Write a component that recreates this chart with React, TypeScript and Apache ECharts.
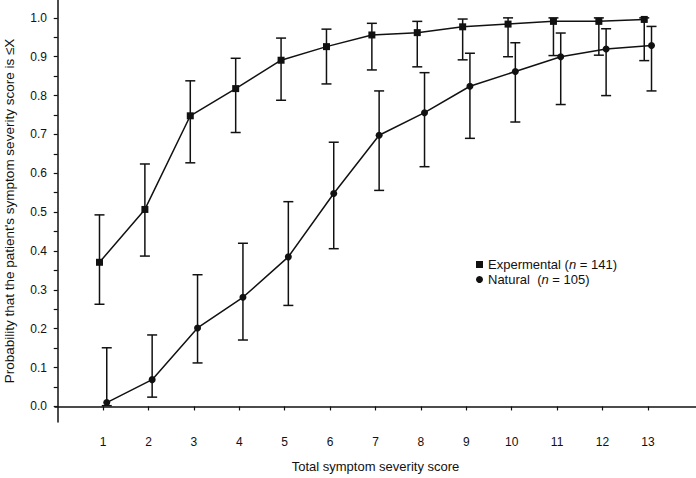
import React, { useEffect, useRef } from "react";
import * as echarts from "echarts";

const categories = [1, 2, 3, 4, 5, 6, 7, 8, 9, 10, 11, 12, 13];
const experimental = [0.371, 0.507, 0.748, 0.818, 0.891, 0.926, 0.956, 0.962, 0.977, 0.984, 0.991, 0.991, 0.996];
const experimentalLow = [0.263, 0.387, 0.627, 0.705, 0.788, 0.83, 0.866, 0.874, 0.892, 0.9, 0.903, 0.904, 0.89];
const experimentalHigh = [0.493, 0.624, 0.838, 0.896, 0.948, 0.971, 0.986, 0.991, 0.997, 1.0, 1.0, 1.0, 1.0];
const natural = [0.01, 0.069, 0.202, 0.281, 0.385, 0.548, 0.698, 0.756, 0.824, 0.862, 0.9, 0.92, 0.929];
const naturalLow = [0.002, 0.024, 0.112, 0.171, 0.26, 0.406, 0.556, 0.617, 0.69, 0.732, 0.777, 0.8, 0.812];
const naturalHigh = [0.151, 0.184, 0.339, 0.42, 0.527, 0.68, 0.812, 0.859, 0.909, 0.936, 0.961, 0.972, 0.978];
const yLabelValues = [0, 0.1, 0.2, 0.3, 0.4, 0.5, 0.6, 0.7, 0.8, 0.9, 1.0];
const yTickValues = [0, 0.05, 0.1, 0.15, 0.2, 0.25, 0.3, 0.35, 0.4, 0.45, 0.5, 0.55, 0.6, 0.65, 0.7, 0.75, 0.8, 0.85, 0.9, 0.95, 1.0];

const FONT = '"Liberation Sans", Arial, Helvetica, sans-serif';
const INK = "#111";
const OFFSET = 0.08;

function errorSeries(name: string, low: number[], high: number[], dx: number) {
  return {
    type: "custom",
    name: name + " CI",
    data: categories.map((c, i) => [c + dx, low[i], high[i]]),
    encode: { x: 0, y: [1, 2] },
    z: 1,
    renderItem: (_params: any, api: any) => {
      const x = api.value(0);
      const lo = api.coord([x, api.value(1)]);
      const hi = api.coord([x, api.value(2)]);
      const w = 5;
      const st = { stroke: INK, lineWidth: 1.5 };
      return {
        type: "group",
        children: [
          { type: "line", shape: { x1: lo[0], y1: lo[1], x2: hi[0], y2: hi[1] }, style: st },
          { type: "line", shape: { x1: lo[0] - w, y1: lo[1], x2: lo[0] + w, y2: lo[1] }, style: st },
          { type: "line", shape: { x1: hi[0] - w, y1: hi[1], x2: hi[0] + w, y2: hi[1] }, style: st },
        ],
      };
    },
  };
}

export default function App() {
  const ref = useRef<HTMLDivElement>(null);
  useEffect(() => {
    if (!ref.current) return;
    const chart = echarts.init(ref.current, null, { renderer: "svg" });
    const legendLabels: Record<string, string> = {
      Expermental: "Expermental ({i|n} = 141)",
      Natural: "Natural  ({i|n} = 105)",
    };
    chart.setOption({
      animation: false,
      backgroundColor: "#fff",
      textStyle: { fontFamily: FONT, color: INK },
      grid: { left: 55, right: 0, top: 0, bottom: 56, containLabel: false, outerBoundsMode: "none" },
      legend: {
        data: [
          { name: "Expermental", icon: "rect" },
          { name: "Natural", icon: "circle" },
        ],
        orient: "vertical",
        left: 471,
        top: 253,
        itemWidth: 7,
        itemHeight: 7,
        itemGap: 2,
        selectedMode: false,
        formatter: (n: string) => legendLabels[n] || n,
        textStyle: {
          fontFamily: FONT,
          fontSize: 13,
          lineHeight: 13,
          color: INK,
          rich: { i: { fontStyle: "italic", fontFamily: FONT, fontSize: 13, lineHeight: 13, color: INK } },
        },
      },
      xAxis: {
        type: "value",
        min: -0.06,
        max: 14.06,
        name: "Total symptom severity score",
        nameLocation: "middle",
        nameGap: 38,
        nameTextStyle: { fontFamily: FONT, fontSize: 13, color: INK },
        axisLine: { show: true, lineStyle: { color: INK, width: 1.5 } },
        axisTick: { show: true, length: 4, lineStyle: { color: INK, width: 1.2 }, customValues: categories },
        axisLabel: { fontFamily: FONT, fontSize: 12, color: INK, margin: 14, customValues: categories },
        splitLine: { show: false },
      },
      yAxis: {
        type: "value",
        min: -0.04,
        max: 1.046,
        name: "Probability that the patient's symptom severity score is \u2264X",
        nameLocation: "middle",
        nameGap: 39,
        nameTextStyle: { fontFamily: FONT, fontSize: 13.5, color: INK },
        axisLine: { show: true, lineStyle: { color: INK, width: 1.5 } },
        axisTick: { show: true, length: 4, lineStyle: { color: INK, width: 1.2 }, customValues: yTickValues },
        axisLabel: {
          fontFamily: FONT,
          fontSize: 12,
          color: INK,
          margin: 8,
          customValues: yLabelValues,
          formatter: (v: number) => v.toFixed(1),
        },
        splitLine: { show: false },
      },
      series: [
        errorSeries("Expermental", experimentalLow, experimentalHigh, -OFFSET),
        errorSeries("Natural", naturalLow, naturalHigh, OFFSET),
        {
          type: "line",
          name: "Expermental",
          data: categories.map((c, i) => [c - OFFSET, experimental[i]]),
          symbol: "rect",
          symbolSize: 7,
          showSymbol: true,
          itemStyle: { color: INK },
          lineStyle: { color: INK, width: 1.5 },
          z: 3,
        },
        {
          type: "line",
          name: "Natural",
          data: categories.map((c, i) => [c + OFFSET, natural[i]]),
          symbol: "circle",
          symbolSize: 7,
          showSymbol: true,
          itemStyle: { color: INK },
          lineStyle: { color: INK, width: 1.5 },
          z: 3,
        },
      ],
    });
    return () => chart.dispose();
  }, []);
  return (
    <div
      ref={ref}
      style={{ position: "fixed", left: 0, top: 0, width: 696, height: 478, background: "#fff" }}
    />
  );
}
